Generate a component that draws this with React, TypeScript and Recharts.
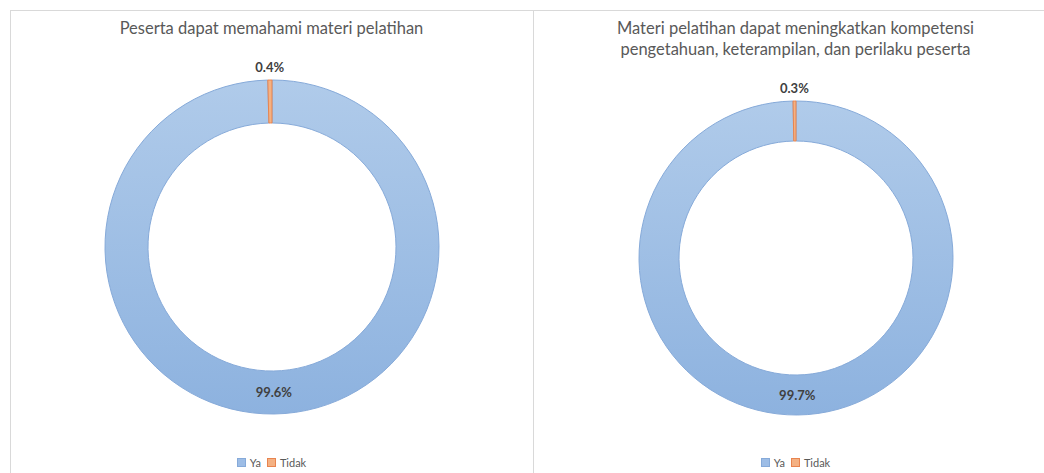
import { PieChart, Pie, Cell, Legend } from "recharts";

const categories = ["Ya", "Tidak"];
const understandValues = [99.6, 0.4];
const competenceValues = [99.7, 0.3];
const titles = [
  ["Peserta dapat memahami materi pelatihan"],
  ["Materi pelatihan dapat meningkatkan kompetensi", "pengetahuan, keterampilan, dan perilaku peserta"],
];

const FONT = "Lato, 'Open Sans', sans-serif";
const FILLS = ["url(#yaGrad)", "#f4b183"];
const STROKES = ["#86aad9", "#e8844f"];
const LEGEND_FILLS = ["#9dbde6", "#f4b183"];

const RADIAN = Math.PI / 180;

function renderLabel(props: any) {
  const { cx, cy, midAngle, innerRadius, outerRadius, value, index } = props;
  const r = index === 0 ? (innerRadius + outerRadius) / 2 : outerRadius + 13;
  const x = cx + r * Math.cos(-midAngle * RADIAN);
  const y = cy + r * Math.sin(-midAngle * RADIAN);
  return (
    <text
      x={x}
      y={y}
      textAnchor="middle"
      dominantBaseline="central"
      fill="#404040"
      fontSize={13}
      fontWeight={700}
      fontFamily={FONT}
    >
      {`${value.toFixed(1)}%`}
    </text>
  );
}

function LegendContent() {
  return (
    <div style={{ display: "flex", justifyContent: "center", gap: 6, fontFamily: FONT, fontSize: 11, color: "#595959" }}>
      {categories.map((c, i) => (
        <span key={c} style={{ display: "flex", alignItems: "center", gap: 4 }}>
          <span style={{ width: 7, height: 7, background: LEGEND_FILLS[i], border: `1px solid ${STROKES[i]}` }} />
          {c}
        </span>
      ))}
    </div>
  );
}

function Donut({
  values,
  title,
  width,
  cy,
  inner,
  outer,
}: {
  values: number[];
  title: string[];
  width: number;
  cy: number;
  inner: number;
  outer: number;
}) {
  const data = categories.map((name, i) => ({ name, value: values[i] }));
  return (
    <div style={{ position: "relative", width, height: 463 }}>
      <div
        style={{
          position: "absolute",
          top: 8,
          left: 0,
          width: 523,
          textAlign: "center",
          fontFamily: FONT,
          fontSize: 16.5,
          lineHeight: "21px",
          color: "#595959",
        }}
      >
        {title.map((t) => (
          <div key={t}>{t}</div>
        ))}
      </div>
      <PieChart width={width} height={463}>
        <defs>
          <linearGradient id="yaGrad" x1="0" y1="0" x2="0" y2="1">
            <stop offset="0%" stopColor="#b0cbea" />
            <stop offset="100%" stopColor="#8db2df" />
          </linearGradient>
        </defs>
        <Pie
          data={data}
          dataKey="value"
          nameKey="name"
          cx={257}
          cy={cy}
          innerRadius={inner}
          outerRadius={outer}
          startAngle={90}
          endAngle={-270}
          label={renderLabel}
          labelLine={false}
          isAnimationActive={false}
        >
          {data.map((d, i) => (
            <Cell key={d.name} fill={FILLS[i]} stroke={STROKES[i]} strokeWidth={1} />
          ))}
        </Pie>
        <Legend
          content={<LegendContent />}
          wrapperStyle={{ left: 0, width: 523, bottom: 4 }}
        />
      </PieChart>
    </div>
  );
}

export default function App() {
  return (
    <div style={{ position: "fixed", left: 0, top: 0, width: 1044, height: 473, background: "#fff", overflow: "hidden" }}>
      <div
        style={{
          position: "absolute",
          left: 10,
          top: 10,
          width: 1100,
          height: 500,
          borderTop: "1px solid #d9d9d9",
          borderLeft: "1px solid #d9d9d9",
        }}
      />
      <div style={{ position: "absolute", left: 533, top: 10, width: 1, height: 463, background: "#d9d9d9" }} />
      <div style={{ position: "absolute", left: 10, top: 10 }}>
        <Donut values={understandValues} title={titles[0]} width={523} cy={232} inner={124} outer={167} />
      </div>
      <div style={{ position: "absolute", left: 534, top: 10 }}>
        <Donut values={competenceValues} title={titles[1]} width={510} cy={243} inner={117} outer={157} />
      </div>
    </div>
  );
}
